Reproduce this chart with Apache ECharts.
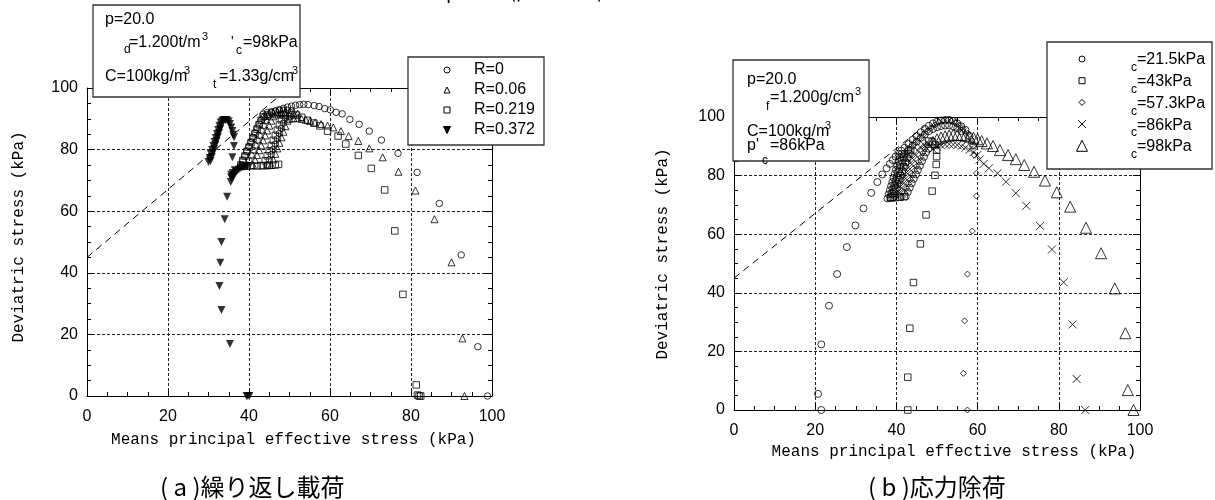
<!DOCTYPE html>
<html><head><meta charset="utf-8">
<script src="https://cdn.jsdelivr.net/npm/echarts@6/dist/echarts.min.js"></script>
<style>html,body{margin:0;padding:0;background:#fff}#c{width:1215px;height:500px}</style>
</head><body><div id="c"></div>
<script>
// ---------- data ----------
const xTickVals = [0, 20, 40, 60, 80, 100];
const yTickVals = [0, 20, 40, 60, 80, 100];
const xTitle = 'Means principal effective stress (kPa)';
const yTitle = 'Deviatric stress (kPa)';
const capA = '( a )繰り返し載荷';
const capB = '( b )応力除荷';
const legendA = ['R=0', 'R=0.06', 'R=0.219', 'R=0.372'];
const legendB = ['=21.5kPa', '=43kPa', '=57.3kPa', '=86kPa', '=98kPa'];
const cslA = [[0, 45], [48, 98]];
const cslB = [[0, 45], [47, 97]];

// (a) cyclic loading
const aR0 = [[98.9,0],[96.5,16],[92.4,45.8],[87,62.5],[81.5,72.6],[76.8,78.8],[72.7,83.1],[69.7,86],[67.2,88.2],[64.9,89.8],[63,91.6],[61.5,92.1],[60.1,92.9],[58.7,93.3],[57.3,94],[56.1,94.3],[54.6,94.6],[53.5,94.7],[52.5,94.6],[51.5,94.4],[50.5,94.1],[49.5,93.8],[48.5,93.4],[47.5,93],[46.5,92.5],[45.5,92],[44.5,91.3],[43.7,90.5],[43,89.5],[42.5,88.3],[42,87],[41.5,85.5],[41,84],[40.5,82.5],[40,81],[39.5,79.5],[39,78],[38.5,76.5],[38,75],
  [43.5,91.5],[44.5,92],[45.5,92.3],[46.5,92.5],[47.5,92.7],[48.5,92.8],[49.5,92.8],[50.5,92.6],
  [39.5,75],[40,76.6],[40.5,78.2],[41,79.8],[41.5,81.4],[42,83],[42.5,84.6],[43,86.2],[43.5,87.8],[44,89.4],[44.6,90.8],
  [44.5,75],[45,76.7],[45.5,78.4],[46,80.1],[46.5,81.8],[47,83.5],[47.5,85.2],[48,86.9],[48.5,88.6],[49,90.2]];
const aR006 = [[93.2,0],[92.7,18.7],[90,43.4],[85.8,57.4],[81.1,66.7],[76.9,72.8],[73,77.5],[69.7,80.4],[67,82.8],[64.6,84.4],[62.7,86],[60.8,87.2],[59.4,87.8],[57.8,88.3],[56.3,88.8],[55.1,89.3],[54,89.7],[53,90],[52,90.2],[51,90.2],[50,90],
  [41,75],[41.5,76.6],[42,78.2],[42.5,79.8],[43,81.4],[43.5,83],[44,84.6],[44.5,86.2],[45,87.8],[45.5,89.4],[46,90.8],
  [45.5,75],[46,76.8],[46.5,78.6],[47,80.4],[47.5,82.2],[48,84],[48.5,85.8],[49,87.6],[49.5,89.4],[50,91],
  [46.8,91.4],[47.8,91.7],[48.8,91.8],
  [44,91],[45,91.6],[46,92],[47,92.2],[48,92.3],[49,92.2],[50,92],[51,91.9],[52,91.7]];
const aR0219 = [[82.4,0],[82,0],[81.6,0.3],[81.3,3.6],[78,33],[76,53.6],[73.5,66.9],[70.2,73.9],[67,78.1],[63.9,81.8],[62,84.4],[59.4,86],[57.5,87.7],[56,88.6],[54.5,89.5],[53,90.5],[51.7,91.2],[50.5,91.4],
  [38,75],[38.5,76.5],[39,77.9],[39.5,79.4],[40,80.8],[40.5,82.3],[41,83.7],[41.5,85.2],[42,86.6],[42.5,88.1],[43,89.5],[43.5,90.7],
  [43.5,74.8],[44,76.4],[44.5,78],[45,79.6],[45.5,81.3],[46,83],[46.5,84.6],[47,86.3],[47.5,88],[48,89.7],[48.5,91.2],
  [38.5,74.6],[39.5,74.6],[40.5,74.7],[42,74.7],[43,74.8],[44.5,74.8],[45,74.9],[46.5,75],[47.3,75.2]];
const aR0372 = [[39.7,0],[40.1,0],[39.4,0],[35.3,16.9],[33.2,27.9],[32.7,35.7],[32.9,43.3],[33.2,50],[34,57.4],[34.6,64.7],[35.6,71.8],[35.9,77.5],[36.3,81.2],[36.3,84],
  [30,76],[30.3,77.3],[30.6,78.6],[30.9,79.9],[31.2,81.2],[31.5,82.5],[31.8,83.8],[32.1,85.1],[32.4,86.4],[32.7,87.7],[33,88.8],[33.4,89.4],[33.8,89.6],[34.2,89.6],[34.6,89.5],[35,89.1],[35.3,88.3],[35.6,87.2],[35.9,86],[36.1,84.8],
  [30.5,76.3],[30.8,77.6],[31.1,78.9],[31.4,80.2],[31.7,81.5],[32,82.8],[32.3,84.1],[32.6,85.4],[32.9,86.7],[33.2,87.9],
  [35.5,69.5],[35.8,70.5],[36.2,71.5],[36.6,72.3],[37,73],[37.5,73.5],[38,74],[38.5,74.3],[39,74.5],[39.5,74.6],[35.6,71],[36,72.4],[36.5,73.3]];

// (b) stress unloading
const bC215 = [[21.5,0],[20.7,5.5],[21.5,22.4],[23.4,35.6],[25.4,46.4],[27.8,55.6],[29.9,63],[31.9,68.8],[33.8,74.1],[35.3,77.8],[36.5,80.4],[37.6,82.5],[38.4,84],[39.1,85.3],[39.8,86.5],[40.5,87.5],[41.2,88.5],[42,89.5],[43,90.8],[44,92.2],[45,93.5],[46,94.8],[47,96],[48,97],[49,97.8],[50,98.4],[51,98.8],[52,99],[53,99],[54,98.6],[55,97.8],[56,96.8],[57,95.6],[58,93.5],[58.9,90.2],
  [37.8,72.2],[38.1,73.6],[38.4,75],[38.7,76.4],[39,77.8],[39.3,79.2],[39.6,80.6],[39.9,82],[40.2,83.4],[40.5,84.8],[40.9,86.2],[41.3,87.4],
  [42,87.5],[43,88.9],[44,90.3],[45,91.6],[46,92.9],[47,94.1],[48,95.1],[49,95.9],[50,96.5],[51,96.9],[52,97.1],[53,97.1],[54,96.8],[55,96.2],[56,95.2],
  [42.3,72.9],[42.8,74.4],[43.3,75.9],[43.8,77.4],[44.3,78.9],[44.8,80.4],[45.3,81.9],[45.8,83.4],[46.3,84.9],[46.8,86.4],[47.3,87.9],[47.9,89.2]];
const bC43 = [[42.8,0],[42.8,11.2],[43.3,27.9],[44.2,43.5],[45.9,56.7],[47.3,66.6],[48.8,74.7],[49.5,80.1],[49.8,83.8],[49.9,86.5],[49.9,88.7],[49.5,90.5],[48.8,91.5],[48,91.8],
  [39,72.5],[39.4,74],[39.8,75.5],[40.2,77],[40.6,78.5],[41,80],[41.4,81.5],[41.8,83],[42.2,84.5],[42.6,86],[43,87.4],[43.5,88.6],
  [38.5,72.5],[39.7,72.5],[40.9,72.6],[41.9,72.8],
  [38.6,72.4],[38.9,73.8],[39.2,75.2],[39.5,76.6],[39.8,78],[40.1,79.4],[40.4,80.8],[40.7,82.2],[41,83.6],[41.4,85],[41.8,86.3]];
const bC573 = [[57.5,0],[56.5,12.5],[56.8,30.4],[57.5,46.4],[58.7,61.1],[59.7,73],[59.7,80.8],[59.2,87],[58.9,90.2],[58.3,92.5],[57.5,94.5],[56.5,96],[55.5,97.3],[54.5,98.2],[53.5,98.7],[52.5,98.9],[51.5,98.7],[50.5,98.2],[49.5,97.3],[48.5,96.3],[47.5,95],[46.5,93.7],[45.5,92.4],[44.5,91],[43.5,89.7],[42.5,88.4],[41.5,87],
  [41.5,72.7],[42,74.2],[42.5,75.7],[43,77.2],[43.5,78.7],[44,80.2],[44.5,81.7],[45,83.2],[45.5,84.7],[46,86.2],[46.5,87.7],[47,89],[47.6,90.3],
  [39.6,72.5],[40,74],[40.4,75.5],[40.8,77],[41.2,78.5],[41.6,80],[42,81.5],[42.4,83],[42.8,84.5],[43.2,86],[43.7,87.3]];
const bC86 = [[86.5,0],[84.4,10.6],[83.4,29.2],[81.2,43.6],[78.3,54.8],[75.4,62.8],[72,69.7],[69.4,74],[67,77.9],[64.9,80.8],[62.8,82.5],[61.5,84],[60.5,85.5],[59.9,87],[59,88],[58,88.8],[57,89.5],[56,90],[55,90.4],[54,90.6],[53,90.7],[52,90.6],[51,90.3],[50,89.8],[49,89],
  [40.3,72.6],[40.8,74.2],[41.3,75.8],[41.8,77.4],[42.3,79],[42.8,80.6],[43.3,82.2],[43.8,83.8],[44.3,85.4],[44.8,87],[45.3,88.5],[45.9,89.8],[46.8,90.5],[47.8,91]];
const bC98 = [[98.4,0],[97,6.8],[96.4,26.2],[93.8,41.5],[90.4,53.5],[86.7,62.2],[82.8,69.4],[79.5,74.3],[76.6,78.3],[73.9,81.3],[71.5,83.6],[69.4,85.6],[67.5,87],[65.5,88.7],[63.8,90.1],[62.3,91],[61,91.8],[60,92.4],[59,92.9],[58,93.3],[57,93.6],[56,93.8],[55,93.9],[54,93.9],[53,93.7],[52,93.4],[51,93],[50,92.4],[49,91.5]];

// ---------- layout ----------
const GA = {left: 87, top: 88, width: 405, height: 308};
const GB = {left: 734, top: 117, width: 406, height: 293};
const FONT = 'Liberation Sans';
const MONO = 'Liberation Mono';
const CJK = 'Noto Sans CJK JP';

const chart = echarts.init(document.getElementById('c'));

function mkX(grid, pos, labels) {
  return {
    type: 'value', gridIndex: grid, position: pos, min: 0, max: 100, interval: 20,
    axisLine: {show: true, onZero: false, lineStyle: {color: '#000', width: 1}},
    axisTick: {show: true, inside: true, length: 7, lineStyle: {color: '#000'}},
    minorTick: {show: true, splitNumber: 4, length: 4, lineStyle: {color: '#000'}},
    axisLabel: {show: labels, color: '#000', fontFamily: FONT, fontSize: 16, margin: 13,
      formatter: v => xTickVals.includes(v) ? String(v) : ''},
    splitLine: {show: labels, lineStyle: {color: '#222', type: [3, 2], width: 1}}
  };
}
function mkY(grid, pos, labels) {
  return {
    type: 'value', gridIndex: grid, position: pos, min: 0, max: 100, interval: 20,
    axisLine: {show: true, onZero: false, lineStyle: {color: '#000', width: 1}},
    axisTick: {show: true, inside: true, length: 7, lineStyle: {color: '#000'}},
    minorTick: {show: true, splitNumber: 4, length: 4, lineStyle: {color: '#000'}},
    axisLabel: {show: labels, color: '#000', fontFamily: FONT, fontSize: 16, margin: 9,
      formatter: v => yTickVals.includes(v) ? String(v) : ''},
    splitLine: {show: labels, lineStyle: {color: '#222', type: [3, 2], width: 1}}
  };
}

const open = {color: 'rgba(255,255,255,0)', borderColor: '#000', borderWidth: 1};
const XPATH = 'path://M0,0L10,10M10,0L0,10';

function sc(name, xi, yi, data, symbol, size, style, rot) {
  return {name, type: 'scatter', xAxisIndex: xi, yAxisIndex: yi, data, symbol,
    symbolSize: size, symbolRotate: rot || 0, itemStyle: style, z: 3, silent: true};
}
function csl(xi, yi, data) {
  return {type: 'line', xAxisIndex: xi, yAxisIndex: yi, data, symbol: 'none', silent: true,
    lineStyle: {color: '#000', width: 1, type: [7, 5]}, z: 2};
}

// graphic helpers
const G = [];
function txt(x, y, s, size, opt) {
  G.push(Object.assign({type: 'text', x, y, silent: true, z: 100,
    style: {text: s, fill: '#000', font: size + 'px "' + ((opt && opt.font) || FONT) + '"',
      textAlign: (opt && opt.align) || 'left', textVerticalAlign: 'middle'}}, opt && opt.rot ? {rotation: opt.rot} : {}));
}
function box(x, y, w, h) {
  G.push({type: 'rect', shape: {x, y, width: w, height: h}, silent: true, z: 90,
    style: {fill: '#fff', stroke: '#333', lineWidth: 1.3}});
}
function sym(kind, x, y, size) {
  const s = size / 2;
  let g;
  if (kind === 'circle') g = {type: 'circle', shape: {cx: x, cy: y, r: s}, style: {fill: 'none', stroke: '#000', lineWidth: 1}};
  else if (kind === 'rect') g = {type: 'rect', shape: {x: x - s, y: y - s, width: size, height: size}, style: {fill: 'none', stroke: '#000', lineWidth: 1}};
  else if (kind === 'tri') g = {type: 'polygon', shape: {points: [[x, y - s], [x + s, y + s], [x - s, y + s]]}, style: {fill: 'none', stroke: '#000', lineWidth: 1}};
  else if (kind === 'dtri') g = {type: 'polygon', shape: {points: [[x - s, y - s], [x + s, y - s], [x, y + s]]}, style: {fill: '#000', stroke: '#000', lineWidth: 1}};
  else if (kind === 'diamond') g = {type: 'polygon', shape: {points: [[x, y - s], [x + s, y], [x, y + s], [x - s, y]]}, style: {fill: 'none', stroke: '#000', lineWidth: 1}};
  else if (kind === 'x') g = {type: 'polyline', shape: {points: [[x - s, y - s], [x + s, y + s]]}, style: {stroke: '#000', lineWidth: 1}};
  g.silent = true; g.z = 100;
  G.push(g);
  if (kind === 'x') G.push({type: 'polyline', silent: true, z: 100, shape: {points: [[x + s, y - s], [x - s, y + s]]}, style: {stroke: '#000', lineWidth: 1}});
}

// top (clipped) figure title
txt(565, -9, '図－7  p=20.0 (ρd=1.200) の有効応力経路', 19, {font: CJK, align: 'center'});

// axis titles
txt(GA.left + GA.width / 2 + 4, 440, xTitle, 16, {font: MONO, align: 'center'});
txt(GB.left + GB.width / 2 + 17, 452, xTitle, 16, {font: MONO, align: 'center'});
txt(19, 237, yTitle, 16, {font: MONO, align: 'center', rot: Math.PI / 2});
txt(663, 254, yTitle, 16, {font: MONO, align: 'center', rot: Math.PI / 2});

// captions
txt(160, 487, capA, 24, {font: CJK});
txt(868, 487, capB, 24, {font: CJK});

// annotation box (a)
box(93, 5, 207, 92);
txt(105, 20, 'p=20.0', 16);
txt(124, 50, 'd', 12);
txt(129, 43, '=1.200t/m', 16);
txt(202, 37, '3', 11);
txt(231, 42, '\'', 14);
txt(236, 51, 'c', 12);
txt(243, 43, '=98kPa', 16);
txt(105, 77, 'C=100kg/m', 16);
txt(184, 71, '3', 11);
txt(213, 85, 't', 12);
txt(219, 77, '=1.33g/cm', 16);
txt(292, 71, '3', 11);

// legend (a)
box(408, 57, 136, 88);
const kindsA = ['circle', 'tri', 'rect', 'dtri'];
const sizesA = [6, 6, 6, 7];
legendA.forEach((s, i) => { sym(kindsA[i], 447, 70 + 20 * i, sizesA[i]); txt(474, 70 + 20 * i, s, 16); });

// annotation box (b)
box(733, 60, 136, 101);
txt(747, 80, 'p=20.0', 16);
txt(766, 107, 'f', 12);
txt(770, 98, '=1.200g/cm', 16);
txt(855, 92, '3', 11);
txt(747, 132, 'C=100kg/m', 16);
txt(825, 126, '3', 11);
txt(747, 146, 'p\'', 16);
txt(762, 161, 'c', 12);
txt(770, 146, '=86kPa', 16);

// legend (b)
box(1047, 42, 165, 127);
const kindsB = ['circle', 'rect', 'diamond', 'x', 'tri'];
const sizesB = [6, 6, 6, 8, 11];
legendB.forEach((s, i) => { sym(kindsB[i], 1082, 59 + 21.7 * i, sizesB[i]); txt(1131, 68 + 21.7 * i, 'c', 12); txt(1137, 60 + 21.7 * i, s, 16); });

const option = {
  animation: false,
  backgroundColor: '#fff',
  grid: [
    {left: GA.left, top: GA.top, width: GA.width, height: GA.height},
    {left: GB.left, top: GB.top, width: GB.width, height: GB.height}
  ],
  xAxis: [mkX(0, 'bottom', true), mkX(0, 'top', false), mkX(1, 'bottom', true), mkX(1, 'top', false)],
  yAxis: [mkY(0, 'left', true), mkY(0, 'right', false), mkY(1, 'left', true), mkY(1, 'right', false)],
  series: [
    csl(0, 0, cslA),
    sc('R=0', 0, 0, aR0, 'circle', 6.5, open),
    sc('R=0.06', 0, 0, aR006, 'triangle', 7, open),
    sc('R=0.219', 0, 0, aR0219, 'rect', 6.5, open),
    sc('R=0.372', 0, 0, aR0372, 'triangle', 8, {color: '#000'}, 180),
    csl(2, 2, cslB),
    sc('21.5', 2, 2, bC215, 'circle', 7, open),
    sc('43', 2, 2, bC43, 'rect', 6.5, open),
    sc('57.3', 2, 2, bC573, 'diamond', 6, open),
    sc('86', 2, 2, bC86, XPATH, 8, {color: 'none', borderColor: '#000', borderWidth: 1}),
    sc('98', 2, 2, bC98, 'triangle', 11, open)
  ],
  graphic: G
};
chart.setOption(option);
</script>
</body></html>
